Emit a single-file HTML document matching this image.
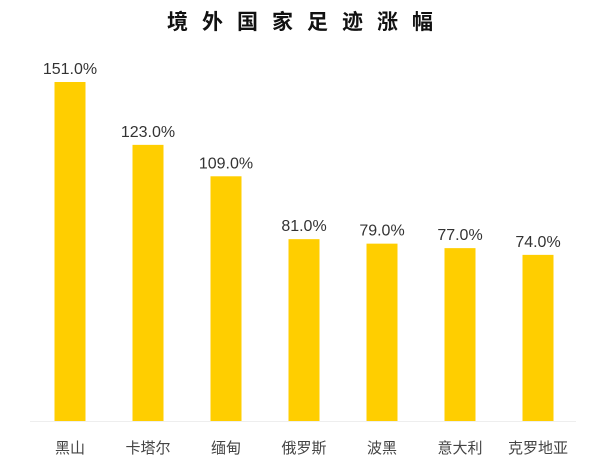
<!DOCTYPE html>
<html><head><meta charset="utf-8"><style>
body{margin:0;background:#fff;}
svg{display:block;font-family:"Liberation Sans","Noto Sans CJK SC",sans-serif;}
</style></head><body>
<svg id="c" width="600" height="475">
<text x="307" y="29" text-anchor="middle" font-size="21" font-weight="bold" letter-spacing="14" fill="#111" font-family="'Noto Sans CJK SC',sans-serif">境外国家足迹涨幅</text>
<line x1="30" y1="421.5" x2="576" y2="421.5" stroke="#eeeeee" stroke-width="1"/>
<g id="bars"></g>
</svg>
<script>
const categories=["黑山","卡塔尔","缅甸","俄罗斯","波黑","意大利","克罗地亚"];
const values=[151,123,109,81,79,77,74];
const labels=["151.0%","123.0%","109.0%","81.0%","79.0%","77.0%","74.0%"];
const baseY=421, pxPerUnit=339/151, x0=70, step=78, bw=31;
const yScale=v=>baseY-v*pxPerUnit;
const xScale=i=>x0+i*step;
const g=document.getElementById('bars');
const ns="http://www.w3.org/2000/svg";
values.forEach((v,i)=>{
  const r=document.createElementNS(ns,'rect');
  r.setAttribute('x',xScale(i)-bw/2);
  r.setAttribute('y',yScale(v));
  r.setAttribute('width',bw);
  r.setAttribute('height',baseY-yScale(v));
  r.setAttribute('fill','#FFCE00');
  
  
  g.appendChild(r);
  const t=document.createElementNS(ns,'text');
  t.setAttribute('x',xScale(i));
  t.setAttribute('y',yScale(v)-8);
  t.setAttribute('text-anchor','middle');
  t.setAttribute('font-size','16');
  t.setAttribute('fill','#333');
  t.textContent=labels[i];
  
  
  g.appendChild(t);
  const c=document.createElementNS(ns,'text');
  c.setAttribute('x',xScale(i));
  c.setAttribute('y',453);
  c.setAttribute('text-anchor','middle');
  c.setAttribute('font-size','15');
  c.setAttribute('fill','#444');
  c.textContent=categories[i];
  
  
  g.appendChild(c);
});
</script>
</body></html>
